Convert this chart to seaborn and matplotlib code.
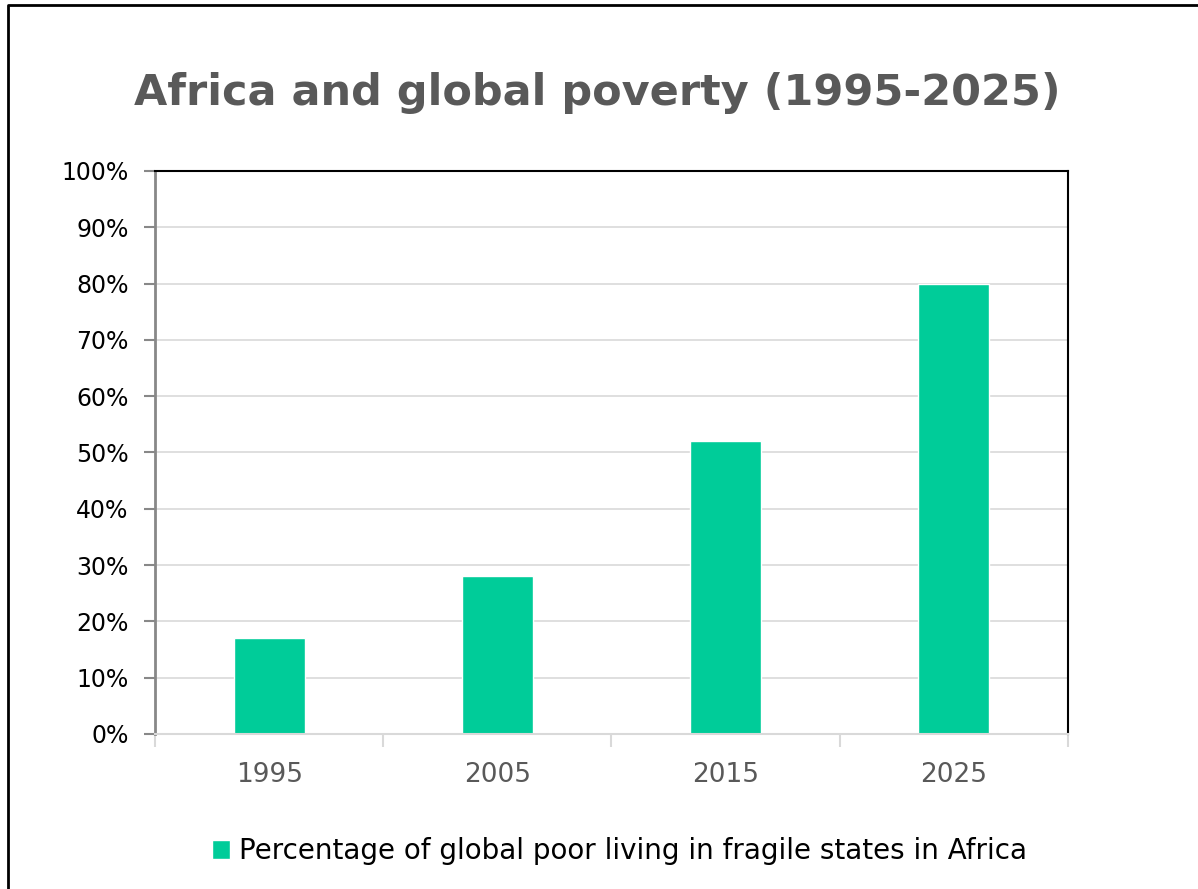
import pandas as pd
import seaborn as sns
import matplotlib.pyplot as plt
from matplotlib.lines import Line2D
from matplotlib.ticker import PercentFormatter, MultipleLocator, FixedLocator

# Data
years = ['1995', '2005', '2015', '2025']
share_poor = [17, 28, 52, 80]
series_name = 'Percentage of global poor living in fragile states in Africa'

df = pd.DataFrame({'Year': years, 'Share': share_poor, 'Series': series_name})

sns.set_theme(style="white")
plt.rcParams['font.family'] = ['DejaVu Sans']

fig = plt.figure(figsize=(11.98, 8.89), dpi=100)
ax = fig.add_axes([0.1294, 0.1744, 0.762, 0.6333])

sns.barplot(data=df, x='Year', y='Share', hue='Series',
            palette=['#00CC99'], width=0.31, saturation=1, ax=ax)

ax.set_ylim(0, 100)
ax.set_xlim(-0.5, 3.5)
ax.yaxis.set_major_locator(MultipleLocator(10))
ax.yaxis.set_major_formatter(PercentFormatter(decimals=0))
ax.grid(axis='y', color='#d9d9d9', linewidth=1.2)
ax.set_axisbelow(True)
ax.set_xlabel('')
ax.set_ylabel('')

# spines like the original
ax.spines['left'].set_color('#888888')
ax.spines['left'].set_linewidth(2)
ax.spines['bottom'].set_color('#d9d9d9')
ax.spines['bottom'].set_linewidth(1.5)
ax.spines['top'].set_color('black')
ax.spines['top'].set_linewidth(1.5)
ax.spines['right'].set_color('black')
ax.spines['right'].set_linewidth(1.5)

ax.tick_params(axis='y', left=True, length=8, width=1.5, color='#888888',
               labelsize=17, labelcolor='black', pad=11)
ax.tick_params(axis='x', bottom=False, labelsize=19, labelcolor='#595959', pad=14)
ax.xaxis.set_minor_locator(FixedLocator([-0.5, 0.5, 1.5, 2.5, 3.5]))
ax.tick_params(axis='x', which='minor', bottom=True, length=9, width=1.5,
               color='#d9d9d9')

fig.suptitle('Africa and global poverty (1995-2025)', x=0.4985, y=0.919,
             fontsize=31, fontweight='bold', color='#595959')

sns.move_legend(ax, 'center', bbox_to_anchor=(0.517, 0.0425),
                bbox_transform=fig.transFigure, title=None, frameon=False,
                fontsize=20, handlelength=0.65, handleheight=0.65,
                handletextpad=0.32, labelcolor='black')

# outer frame (top and left visible)
fig.add_artist(Line2D([8 / 1198, 8 / 1198, 1], [0, 1 - 5 / 889, 1 - 5 / 889],
                      transform=fig.transFigure, color='black', linewidth=2))

fig.savefig('out.png', dpi=100)
